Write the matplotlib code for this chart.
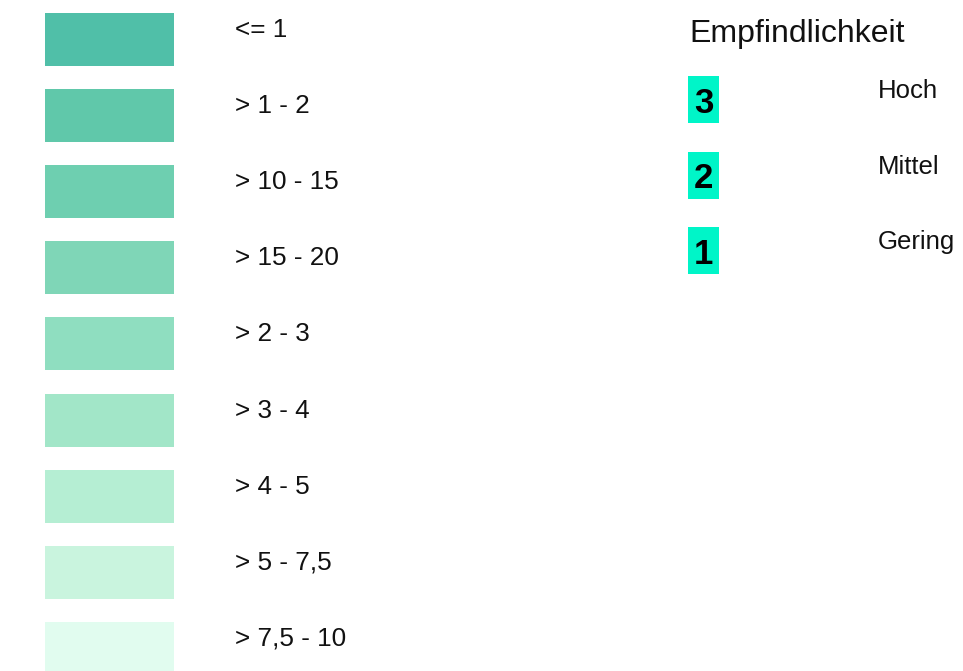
import matplotlib.pyplot as plt
from matplotlib.patches import Rectangle

plt.rcParams['font.family'] = ['Liberation Sans', 'DejaVu Sans']

# class legend (left)
class_labels = ['<= 1', '> 1 - 2', '> 10 - 15', '> 15 - 20', '> 2 - 3',
                '> 3 - 4', '> 4 - 5', '> 5 - 7,5', '> 7,5 - 10']
class_colors = ['#50bfa8', '#60c8aa', '#6ecfb0', '#7fd6b7', '#8fdec0',
                '#a2e6c8', '#b5eed3', '#c9f4de', '#e1fcef']

# sensitivity legend (right)
sens_title = 'Empfindlichkeit'
sens_codes = ['3', '2', '1']
sens_labels = ['Hoch', 'Mittel', 'Gering']
sens_color = '#00f5c8'

W, H = 963, 671
fig = plt.figure(figsize=(W / 100, H / 100), dpi=100)
ax = fig.add_axes([0, 0, 1, 1])
ax.set_xlim(0, W)
ax.set_ylim(H, 0)
ax.axis('off')

step = 76.1
for i, (lab, col) in enumerate(zip(class_labels, class_colors)):
    top = 13 + i * step
    ax.add_patch(Rectangle((45, top), 129, 53, facecolor=col, edgecolor='none'))
    ax.text(235, top + 24, lab, fontsize=18.8, va='baseline', ha='left', color='#111111')

ax.text(689, 42, sens_title, fontsize=23, va='baseline', ha='left', color='#111111')

step2 = 75.5
for j, (code, lab) in enumerate(zip(sens_codes, sens_labels)):
    top = 76 + j * step2
    ax.add_patch(Rectangle((688, top), 31, 47, facecolor=sens_color, edgecolor='none'))
    ax.text(703.5, top + 37, code, fontsize=25, fontweight='bold', va='baseline',
            ha='center', color='black')
    ax.text(878, top + 22, lab, fontsize=18.5, va='baseline', ha='left', color='#111111')

fig.savefig('out.png', dpi=100)
